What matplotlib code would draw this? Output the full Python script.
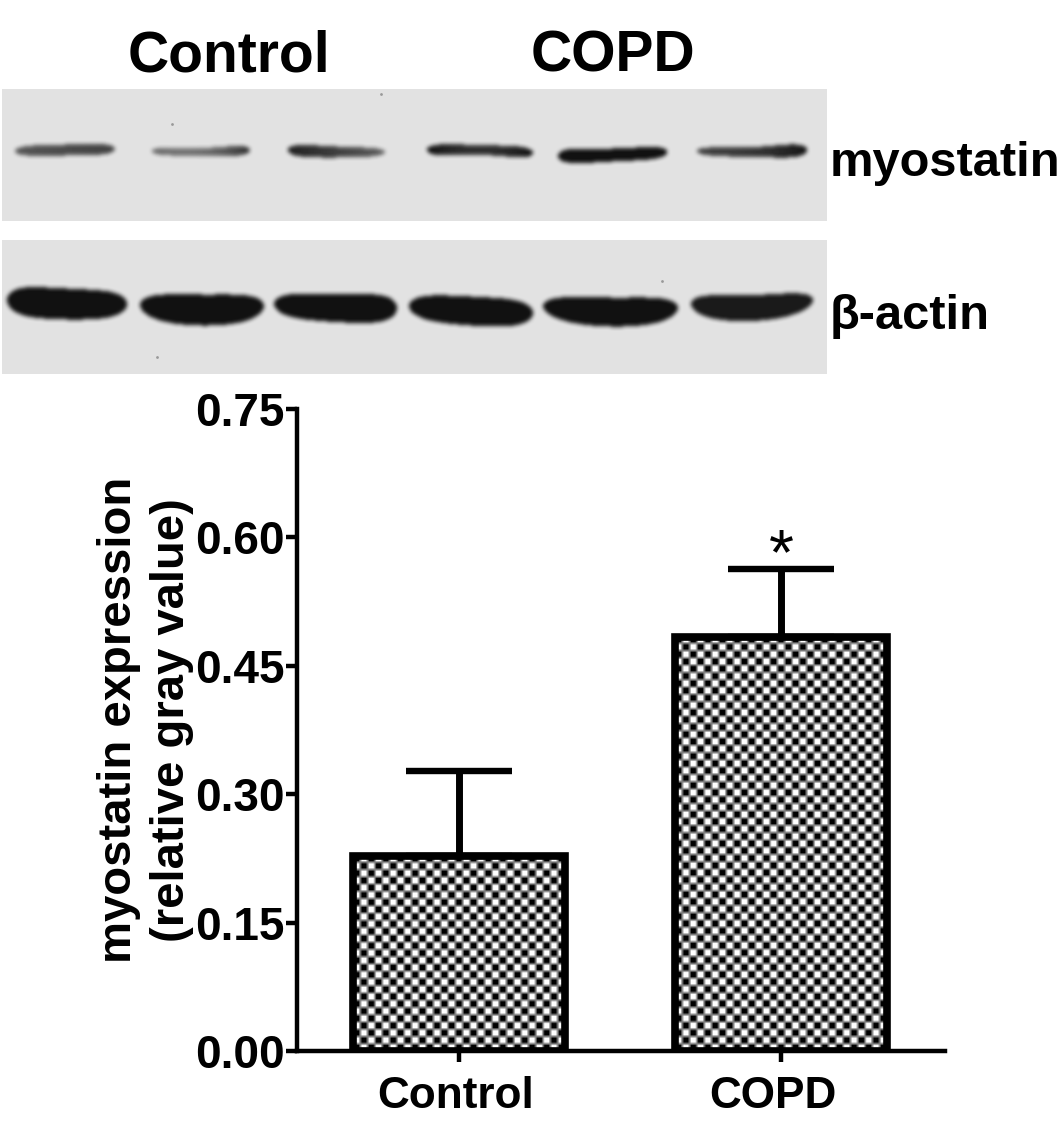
import numpy as np
import matplotlib
matplotlib.use("Agg")
import matplotlib.pyplot as plt
from matplotlib.transforms import ScaledTranslation

W, H = 1063, 1125
plt.rcParams['font.family'] = ['Liberation Sans', 'DejaVu Sans']
plt.rcParams['font.weight'] = 'bold'

categories = ['Control', 'COPD']
means = [0.228, 0.484]
errors = [0.099, 0.079]
yticks = [0.00, 0.15, 0.30, 0.45, 0.60, 0.75]

# blot bands: x0, x1, (centre left/mid/right), (half thickness l/m/r), (darkness l/m/r), in panel pixels
myostatin_bands = [
    (15, 115, (151, 150, 149), (5.5, 5.5, 6.0), (0.66, 0.72, 0.76)),
    (152, 250, (151, 152, 150), (4.5, 4.0, 6.5), (0.60, 0.55, 0.85)),
    (288, 385, (150, 152, 152), (7.0, 5.5, 4.5), (0.92, 0.78, 0.62)),
    (427, 533, (150, 150, 153), (7.0, 5.0, 7.0), (1.0, 0.85, 1.0)),
    (558, 667, (156, 155, 152), (9.0, 6.5, 7.5), (1.0, 1.0, 1.0)),
    (697, 807, (151, 152, 150), (5.0, 5.0, 8.5), (0.78, 0.82, 0.98)),
]
actin_bands = [
    (7, 127, (300, 304, 304), (15.0, 15.5, 13.0), (1.0, 1.0, 1.0)),
    (140, 264, (305, 310, 306), (12.0, 15.5, 12.5), (1.0, 1.0, 1.0)),
    (274, 397, (304, 308, 308), (12.0, 14.0, 15.0), (1.0, 1.0, 1.0)),
    (409, 533, (306, 311, 313), (12.0, 14.5, 13.0), (1.0, 1.0, 1.0)),
    (543, 678, (306, 312, 308), (11.0, 14.5, 12.0), (1.0, 1.0, 1.0)),
    (691, 813, (304, 308, 300), (11.0, 13.0, 10.0), (0.96, 0.96, 0.96)),
]
specks = [(172, 124), (381, 94), (662, 281), (157, 357)]

fig = plt.figure(figsize=(W / 100, H / 100), dpi=100, facecolor='white')


def px_axes(x0, y0, x1, y1):
    return fig.add_axes([x0 / W, 1 - y1 / H, (x1 - x0) / W, (y1 - y0) / H])


def blur(a, n=5, passes=2):
    k = np.ones(n) / n
    for _ in range(passes):
        a = np.apply_along_axis(lambda v: np.convolve(np.pad(v, n, mode='edge'), k, 'same')[n:-n], 0, a)
        a = np.apply_along_axis(lambda v: np.convolve(np.pad(v, n, mode='edge'), k, 'same')[n:-n], 1, a)
    return a


def blot(x0, y0, x1, y1, bands):
    xs, ys = np.meshgrid(np.arange(x0, x1) + .5, np.arange(y0, y1) + .5)
    cover = np.zeros(xs.shape)
    for a, b, cs, hs, ds in bands:
        mid = (a + b) / 2
        t = (xs - mid) / ((b - a) / 2)
        tp = np.array([-1.0, 0.0, 1.0])
        c = np.polyval(np.polyfit(tp, cs, 2), t)
        h = np.polyval(np.polyfit(tp, hs, 2), t)
        d = np.polyval(np.polyfit(tp, ds, 2), t)
        inside = np.abs(t) < 1
        h = h * np.sqrt(np.clip(1 - np.abs(t) ** 5, 0.0, 1))
        m = (np.abs(ys - c) < h) & inside
        cover = np.maximum(cover, m * d)
    cover = blur(cover)
    img = 0.885 * (1 - cover) + 0.07 * cover
    ax = px_axes(x0, y0, x1, y1)
    ax.imshow(img, cmap='gray', vmin=0, vmax=1, aspect='auto', interpolation='bilinear',
              extent=(x0, x1, y1, y0))
    for sx, sy in specks:
        if x0 < sx < x1 and y0 < sy < y1:
            ax.plot(sx, sy, 'o', ms=2, color='#999999', mew=0)
    ax.set_xlim(x0, x1)
    ax.set_ylim(y1, y0)
    ax.axis('off')


blot(2, 89, 827, 221, myostatin_bands)
blot(2, 240, 827, 374, actin_bands)


def label(x, y, s, size, ha='center', **kw):
    fig.text(x / W, 1 - y / H, s, fontsize=size, ha=ha, va='center', **kw)


label(229, 57, 'Control', 41)
label(613, 57, 'COPD', 41)
label(830, 164, 'myostatin', 35.2, ha='left')
label(830, 316, 'β-actin', 35.2, ha='left')

ax = px_axes(297, 409, 945, 1051)
ax.patch.set_alpha(0)
ax.set_xlim(-0.503, 1.509)
ax.set_ylim(0, 0.75)
x = np.arange(len(categories))
bars = ax.bar(x, means, width=0.658, facecolor='none', edgecolor='black', linewidth=5.5, zorder=3)
ax.errorbar(x, means, yerr=[np.zeros(2), errors], fmt='none', ecolor='black',
            elinewidth=5, capsize=38, capthick=4.6, zorder=2)

CELL = 7.3
SUB = 6
for b in bars:
    bx, by, bw, bh = b.get_x(), b.get_y(), b.get_width(), b.get_height()
    pw = bw / (ax.get_xlim()[1] - ax.get_xlim()[0]) * 648
    ph = bh / 0.75 * 642
    nx, ny = int(round(pw / CELL)), int(round(ph / CELL))
    r, c = np.indices((ny, nx))
    board = np.kron((r + c) % 2, np.ones((SUB, SUB))).astype(float)
    board = blur(board, n=3, passes=1)
    ax.imshow(board, cmap='gray', vmin=0, vmax=1, aspect='auto', interpolation='antialiased',
              extent=(bx, bx + bw, by, by + bh), zorder=1, origin='lower')
ax.set_xlim(-0.503, 1.509)
ax.set_ylim(0, 0.75)

ax.text(1, means[1] + errors[1] + 0.014, '*', ha='center', va='center', fontsize=46,
        fontweight='normal', zorder=4, transform=ax.transData)

for s in ('top', 'right'):
    ax.spines[s].set_visible(False)
for s in ('left', 'bottom'):
    ax.spines[s].set_linewidth(3.2)
ax.set_xticks(x, categories)
ax.set_yticks(yticks, [f'{v:.2f}' for v in yticks])
ax.tick_params(axis='both', width=3.2, length=8, labelsize=33)
ax.tick_params(axis='x', labelsize=31.8, pad=10)
ax.tick_params(axis='y', pad=1)
for lab, dx in zip(ax.get_xticklabels(), (-3.5, -8)):
    lab.set_transform(lab.get_transform() + ScaledTranslation(dx / 100, 0, fig.dpi_scale_trans))
ax.set_ylabel('myostatin expression\n(relative gray value)', fontsize=34, linespacing=1.25,
              fontweight='bold')
ax.yaxis.set_label_coords(-0.159, 0.5156)

fig.savefig('out.png', dpi=100, facecolor='white')
